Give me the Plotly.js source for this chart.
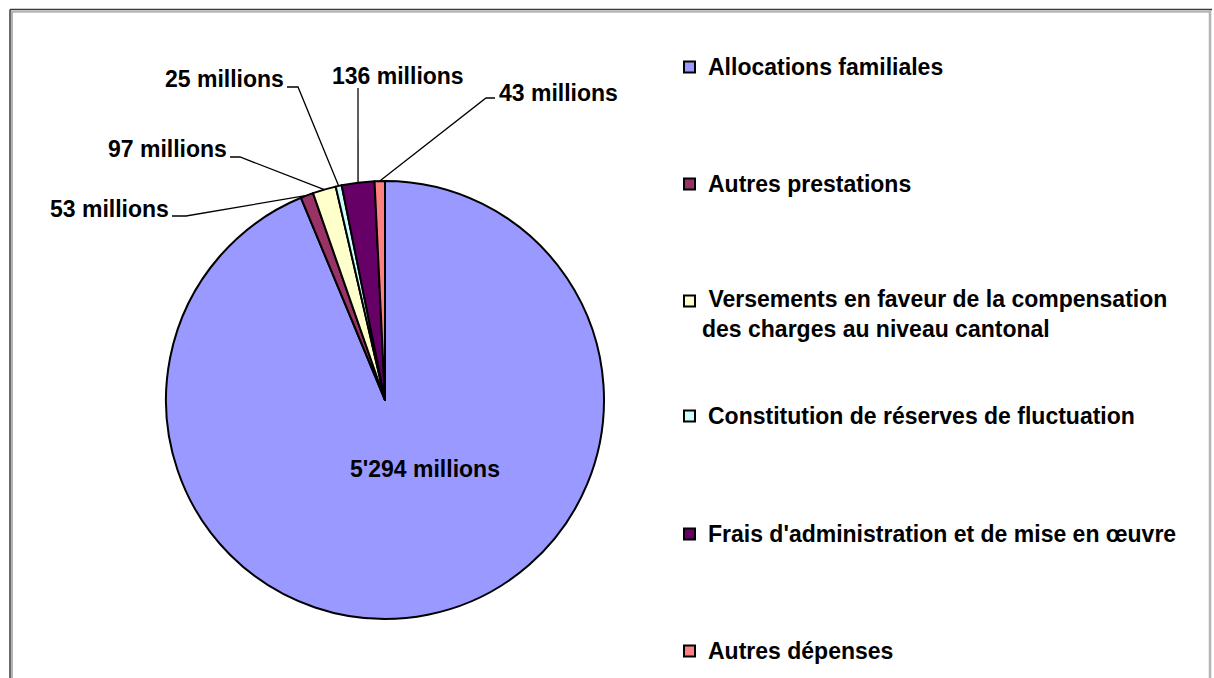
<!DOCTYPE html>
<html>
<head>
<meta charset="utf-8">
<script src="https://cdn.plot.ly/plotly-3.0.1.min.js"></script>
<style>html,body{margin:0;padding:0;background:#fff;}#chart{width:1214px;height:678px;}</style>
</head>
<body>
<div id="chart"></div>
<script>
// ---- data ----
const categories = [
  "Allocations familiales",
  "Autres prestations",
  "Versements en faveur de la compensation des charges au niveau cantonal",
  "Constitution de réserves de fluctuation",
  "Frais d'administration et de mise en œuvre",
  "Autres dépenses"
];
const legendLabels = [
  "Allocations familiales",
  "Autres prestations",
  "\u00a0Versements en faveur de la compensation<br>des charges au niveau cantonal",
  "Constitution de réserves de fluctuation",
  "Frais d'administration et de mise en œuvre",
  "Autres dépenses"
];
const valuesMillions = [5294, 53, 97, 25, 136, 43];
const unitLabel = "millions";

// ---- styles / layout constants ----
const colors = ["#9999FF", "#993366", "#FFFFCC", "#CCFFFF", "#660066", "#FF8080"];
const W = 1214, H = 678;
const CX = 385, CY = 400, R = 219;
const FONT = "Liberation Sans, Arial, sans-serif";
const FS = 23;
// label boxes (pixel centres) and leader anchor at label side
const labelCenters = [[425, 469], [109, 209], [167, 149], [224, 79], [398, 76], [558, 93]];
const leaderStart = [null, [172, 216, 186], [230, 157, 240], [287, 87, 298], [358, 88, 358], [495, 98, 486]];
const legendY = [67, 184, 314, 416, 534, 651];

const px = x => x / W;
const py = y => 1 - y / H;
function fmt(v) { return String(v).replace(/\B(?=(\d{3})+(?!\d))/g, "'"); }

const total = valuesMillions.reduce((a, b) => a + b, 0);
let cum = 0;
const annotations = [];
const shapes = [];
valuesMillions.forEach((v, i) => {
  const mid = (cum + v / 2) / total;
  cum += v;
  const th = mid * 2 * Math.PI; // clockwise from top
  const ex = CX + R * Math.sin(th), ey = CY - R * Math.cos(th);
  annotations.push({
    x: px(labelCenters[i][0]), y: py(labelCenters[i][1]), xref: "paper", yref: "paper",
    text: fmt(v) + " " + unitLabel, showarrow: false,
    xanchor: "center", yanchor: "middle",
    font: {family: FONT, size: FS, color: "#000", weight: "bold"}
  });
  if (leaderStart[i]) {
    const [sx, sy, bx] = leaderStart[i];
    shapes.push({
      type: "path", xref: "paper", yref: "paper",
      path: `M ${px(sx)} ${py(sy)} L ${px(bx)} ${py(sy)} L ${px(ex)} ${py(ey)}`,
      line: {color: "#000", width: 1.3}
    });
  }
});

// manual legend
categories.forEach((c, i) => {
  const y = legendY[i] + (i === 2 ? -13 : 0);
  shapes.push({
    type: "rect", xref: "paper", yref: "paper",
    x0: px(684), x1: px(695), y0: py(y - 5.5), y1: py(y + 5.5),
    fillcolor: colors[i], line: {color: "#000", width: 2}
  });
  annotations.push({
    x: px(i === 2 ? 700 : 706), y: py(legendY[i]), xref: "paper", yref: "paper",
    text: legendLabels[i], showarrow: false, align: "left",
    xanchor: "left", yanchor: "middle",
    font: {family: FONT, size: FS, color: "#000", weight: "bold"}
  });
});

// frame
shapes.push({type: "line", xref: "paper", yref: "paper", x0: px(10), x1: px(1212), y0: py(9.5), y1: py(9.5), line: {color: "#3a3a3a", width: 1.5}});
shapes.push({type: "line", xref: "paper", yref: "paper", x0: px(10), x1: px(10), y0: py(9.5), y1: py(700), line: {color: "#3a3a3a", width: 1.5}});
shapes.push({type: "line", xref: "paper", yref: "paper", x0: px(11.5), x1: px(1209), y0: py(11.8), y1: py(11.8), line: {color: "#b4b4b4", width: 2}});
shapes.push({type: "line", xref: "paper", yref: "paper", x0: px(12), x1: px(12), y0: py(11), y1: py(700), line: {color: "#b4b4b4", width: 2}});
shapes.push({type: "line", xref: "paper", yref: "paper", x0: px(1210), x1: px(1210), y0: py(10), y1: py(700), line: {color: "#b4b4b4", width: 2.5}});

const trace = {
  type: "pie",
  labels: categories,
  values: valuesMillions,
  sort: false,
  direction: "clockwise",
  rotation: 0,
  textinfo: "none",
  hoverinfo: "label+value",
  marker: {colors: colors, line: {color: "#000", width: 2}},
  domain: {x: [px(CX - R), px(CX + R)], y: [py(CY + R), py(CY - R)]}
};

Plotly.newPlot("chart", [trace], {
  width: W, height: H,
  margin: {l: 0, r: 0, t: 0, b: 0},
  showlegend: false,
  paper_bgcolor: "#fff",
  annotations: annotations,
  shapes: shapes
}, {displayModeBar: false, staticPlot: true});
</script>
</body>
</html>
